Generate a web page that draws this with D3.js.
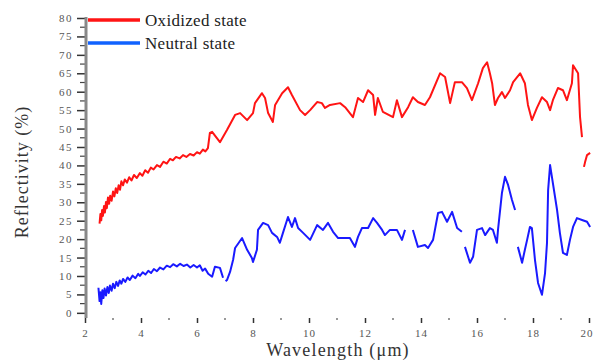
<!DOCTYPE html>
<html>
<head>
<meta charset="utf-8">
<script src="https://cdn.jsdelivr.net/npm/d3@7"></script>
<style>
  body { margin: 0; background: #fff; }
  svg { display: block; }
</style>
</head>
<body>
<div id="chart"></div>
<script>
// Reflectivity (%) vs wavelength (um); null = gap in the trace
const oxidized = [
  [2.52, 24.2], [2.55, 26.8], [2.58, 25.1], [2.61, 27.9], [2.64, 26.3], [2.68, 29.0], [2.71, 27.2],
  [2.75, 30.1], [2.78, 28.4], [2.82, 31.3], [2.86, 29.6], [2.9, 31.8], [2.95, 30.4], [3.0, 32.9],
  [3.05, 31.6], [3.1, 33.8], [3.15, 32.5], [3.2, 34.6], [3.25, 33.4], [3.3, 35.7], [3.36, 34.6],
  [3.42, 36.2], [3.5, 35.3], [3.58, 36.8], [3.66, 35.9], [3.75, 37.4], [3.85, 36.6], [3.96, 37.9],
  [4.05, 37.2], [4.15, 38.7], [4.25, 38.0], [4.35, 39.4], [4.45, 38.9], [4.57, 40.1], [4.68, 39.6],
  [4.8, 41.0], [4.92, 40.5], [5.04, 41.8], [5.14, 41.4], [5.25, 42.3], [5.38, 41.9], [5.5, 42.8],
  [5.62, 42.3], [5.75, 43.1], [5.88, 42.7], [6.0, 43.6], [6.1, 43.2], [6.21, 44.3], [6.3, 43.8],
  [6.39, 44.7], [6.46, 48.8], [6.54, 49.1], [6.82, 46.3], [7.07, 49.6], [7.36, 53.7], [7.54, 54.2],
  [7.79, 52.3], [8.0, 54.2], [8.07, 56.9], [8.32, 59.6], [8.43, 58.3], [8.54, 54.2], [8.71, 51.8],
  [8.79, 56.4], [9.04, 59.6], [9.25, 61.2], [9.39, 59.1], [9.68, 55.0], [9.86, 53.7], [10.04, 55.0],
  [10.29, 57.2], [10.46, 56.9], [10.57, 55.6], [10.75, 56.4], [11.11, 56.9], [11.29, 55.8],
  [11.57, 53.1], [11.75, 58.3], [11.93, 57.2], [12.11, 60.4], [12.29, 59.1], [12.36, 53.7],
  [12.46, 58.3], [12.64, 54.5], [13.0, 53.1], [13.14, 57.7], [13.32, 53.1], [13.54, 55.8],
  [13.71, 58.5], [13.89, 57.2], [14.14, 56.4], [14.32, 58.5], [14.68, 65.0], [14.86, 64.0],
  [15.04, 56.9], [15.21, 62.6], [15.46, 62.6], [15.64, 61.0], [15.82, 57.7], [16.04, 62.3],
  [16.21, 66.4], [16.36, 68.0], [16.46, 65.0], [16.54, 62.3], [16.64, 56.4], [16.75, 58.3],
  [16.89, 59.9], [17.0, 58.3], [17.18, 60.4], [17.29, 62.6], [17.54, 65.0], [17.71, 62.3],
  [17.82, 56.4], [17.96, 52.3], [18.14, 55.6], [18.32, 58.5], [18.5, 57.2], [18.61, 55.0],
  [18.71, 57.7], [18.89, 61.0], [19.07, 60.4], [19.21, 57.7], [19.39, 62.3], [19.43, 67.2],
  [19.61, 65.0], [19.68, 53.1], [19.75, 47.7], [19.78, null], [19.82, 39.6], [19.86, 40.9],
  [19.93, 42.8], [20.04, 43.4]
];

const neutral = [
  [2.48, 6.8], [2.52, 3.2], [2.55, 5.6], [2.58, 2.4], [2.62, 6.1], [2.66, 4.0], [2.7, 6.6],
  [2.75, 4.7], [2.8, 7.0], [2.85, 5.4], [2.89, 7.4], [2.95, 6.0], [3.0, 7.9], [3.06, 6.7],
  [3.12, 8.4], [3.18, 7.3], [3.24, 8.8], [3.3, 7.9], [3.36, 9.2], [3.44, 8.4], [3.52, 9.6],
  [3.6, 8.9], [3.7, 10.1], [3.8, 9.4], [3.9, 10.6], [3.96, 10.0], [4.06, 11.0], [4.16, 10.4],
  [4.26, 11.4], [4.36, 10.8], [4.46, 11.9], [4.57, 11.3], [4.68, 12.3], [4.8, 11.8], [4.92, 12.8],
  [5.04, 12.4], [5.15, 13.2], [5.28, 12.6], [5.4, 13.3], [5.52, 12.7], [5.64, 13.1], [5.76, 12.3],
  [5.88, 13.0], [6.0, 12.3], [6.1, 12.9], [6.2, 11.4], [6.29, 12.0], [6.4, 10.6], [6.54, 9.8],
  [6.64, 12.5], [6.82, 12.2], [6.93, 9.5], [6.98, null], [7.02, 8.6], [7.07, 8.9], [7.18, 11.1],
  [7.29, 14.4], [7.36, 17.6], [7.61, 20.3], [7.79, 17.1], [7.96, 14.9], [8.0, 13.8], [8.14, 17.1],
  [8.18, 22.5], [8.36, 24.4], [8.54, 23.8], [8.68, 21.7], [8.86, 20.6], [8.96, 19.0], [9.07, 21.7],
  [9.25, 26.0], [9.39, 23.3], [9.5, 25.7], [9.61, 23.0], [9.79, 21.7], [10.04, 19.8], [10.29, 23.8],
  [10.5, 22.5], [10.68, 24.4], [10.86, 22.0], [11.04, 20.3], [11.21, 20.3], [11.46, 20.3],
  [11.64, 17.9], [11.75, 20.6], [11.89, 23.0], [12.11, 23.0], [12.29, 25.7], [12.43, 24.4],
  [12.61, 22.5], [12.71, 21.1], [12.89, 22.5], [13.14, 22.5], [13.32, 19.8], [13.43, 22.5],
  [13.57, null], [13.71, 22.5], [13.89, 17.9], [14.14, 18.4], [14.25, 17.6], [14.43, 19.8],
  [14.61, 27.1], [14.75, 27.4], [14.93, 24.7], [15.11, 27.4], [15.29, 23.0], [15.46, 22.0],
  [15.52, null], [15.57, 17.9], [15.75, 13.6], [15.86, 15.2], [16.0, 22.5], [16.18, 23.0],
  [16.29, 21.1], [16.46, 23.0], [16.57, 22.5], [16.71, 19.0], [16.75, 22.5], [16.89, 32.5],
  [17.0, 36.9], [17.11, 34.7], [17.25, 30.6], [17.36, 27.9], [17.41, null], [17.46, 17.9],
  [17.61, 13.6], [17.71, 17.1], [17.79, 19.8], [17.89, 23.3], [17.96, 23.0], [18.07, 14.4],
  [18.18, 8.1], [18.32, 4.9], [18.43, 10.8], [18.5, 19.0], [18.54, 33.3], [18.61, 40.1],
  [18.71, 35.2], [18.86, 27.9], [18.96, 21.7], [19.07, 16.3], [19.21, 15.7], [19.32, 19.8],
  [19.43, 23.3], [19.57, 25.7], [19.75, 25.2], [19.93, 24.7], [20.04, 23.3]
];

const seriesNames = ["Oxidized state", "Neutral state"];
const seriesColors = ["#ff1414", "#1a1aff"];
const legendColors = ["#ff1414", "#1062ff"];
const xTicks = [2, 4, 6, 8, 10, 12, 14, 16, 18, 20];
const yTicks = [0, 5, 10, 15, 20, 25, 30, 35, 40, 45, 50, 55, 60, 65, 70, 75, 80];

const width = 594, height = 363;
const serif = "'Liberation Serif', 'Times New Roman', serif";

const svg = d3.select("#chart").append("svg")
    .attr("width", width)
    .attr("height", height);

const x = d3.scaleLinear().domain([2, 20]).range([85, 589]);
const y = d3.scaleLinear().domain([-1.4, 80]).range([318, 18]);

// y axis: thick grey spine, ticks outward
const yAxis = d3.axisLeft(y)
    .tickValues(yTicks)
    .tickSize(8)
    .tickPadding(4)
    .tickFormat(d3.format("d"));

const gy = svg.append("g")
    .attr("transform", "translate(85,0)")
    .call(yAxis);
gy.select(".domain").remove();
gy.selectAll(".tick line").attr("stroke", "#333").attr("stroke-width", 1.5);
gy.selectAll(".tick text")
    .attr("fill", "#555")
    .style("font-family", serif)
    .style("font-size", "11px")
    .style("letter-spacing", "1.5px");

// minor y ticks
svg.append("g").selectAll("line")
    .data(yTicks.slice(0, -1).map(d => d + 2.5))
    .enter().append("line")
    .attr("x1", 80).attr("x2", 85)
    .attr("y1", d => y(d)).attr("y2", d => y(d))
    .attr("stroke", "#444").attr("stroke-width", 1.2);

svg.append("line")
    .attr("x1", 86).attr("x2", 86)
    .attr("y1", 17).attr("y2", 318)
    .attr("stroke", "#888")
    .attr("stroke-width", 3);

// x axis: no visible spine, short ticks only
const xAxis = d3.axisBottom(x)
    .tickValues(xTicks)
    .tickSize(5)
    .tickPadding(6)
    .tickFormat(d3.format("d"));

const gx = svg.append("g")
    .attr("transform", "translate(0,318)")
    .call(xAxis);
gx.select(".domain").remove();
gx.selectAll(".tick line").attr("stroke", "#333").attr("stroke-width", 1.5);
gx.selectAll(".tick text")
    .attr("fill", "#555")
    .style("font-family", serif)
    .style("font-size", "11px")
    .style("letter-spacing", "1px");
// keep the last label inside the frame
gx.selectAll(".tick text").filter(d => d === 20)
    .attr("text-anchor", "end")
    .attr("dx", 4);

svg.append("g").selectAll("line")
    .data(d3.range(3, 20, 2))
    .enter().append("line")
    .attr("x1", d => x(d)).attr("x2", d => x(d))
    .attr("y1", 318).attr("y2", 320)
    .attr("stroke", "#555").attr("stroke-width", 1.2);

// series
const line = d3.line()
    .defined(d => d[1] !== null)
    .x(d => x(d[0]))
    .y(d => y(d[1]));

[oxidized, neutral].forEach((data, i) => {
    svg.append("path")
        .datum(data)
        .attr("fill", "none")
        .attr("stroke", seriesColors[i])
        .attr("stroke-width", 2)
        .attr("stroke-linejoin", "round")
        .attr("d", line);
});

// legend
const legend = svg.append("g").attr("class", "legend");
seriesNames.forEach((name, i) => {
    const ly = 20 + i * 23;
    legend.append("line")
        .attr("x1", 88).attr("x2", 140)
        .attr("y1", ly).attr("y2", ly)
        .attr("stroke", legendColors[i])
        .attr("stroke-width", 3.5);
    legend.append("text")
        .attr("x", 145).attr("y", ly + 6)
        .attr("fill", "#222")
        .style("font-family", serif)
        .style("font-size", "17px")
        .style("letter-spacing", "0.3px")
        .text(name);
});

// axis titles
svg.append("text")
    .attr("transform", "translate(28,172) rotate(-90)")
    .attr("text-anchor", "middle")
    .attr("fill", "#333")
    .style("font-family", serif)
    .style("font-size", "18px")
    .style("letter-spacing", "1px")
    .text("Reflectivity (%)");

svg.append("text")
    .attr("x", 338).attr("y", 356)
    .attr("text-anchor", "middle")
    .attr("fill", "#333")
    .style("font-family", serif)
    .style("font-size", "18px")
    .style("letter-spacing", "1.2px")
    .text("Wavelength (μm)");
</script>
</body>
</html>
